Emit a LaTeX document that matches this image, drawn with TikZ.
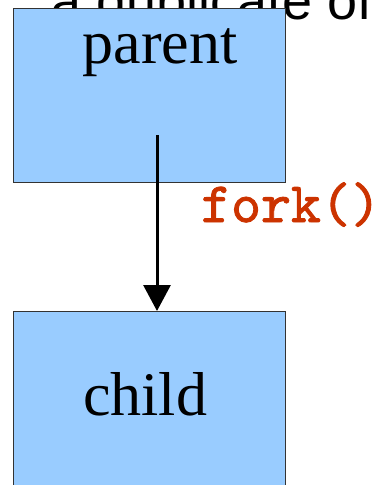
\documentclass[tikz,border=0pt]{standalone}
\usepackage{fontspec}
\setmainfont{Liberation Serif}
\newfontfamily\headfont{Liberation Sans}
\newfontfamily\codefont[FakeBold=1.6]{lmmono10-regular.otf}
\usetikzlibrary{arrows.meta}

\definecolor{procblue}{HTML}{99CCFF}
\definecolor{forkred}{HTML}{CC3300}

\tikzset{
  procbox/.style={draw=black!80, line width=1.2pt, fill=procblue, inner sep=0pt,
    minimum width=272pt, anchor=north west},
  proclabel/.style={anchor=base, inner sep=0pt, font=\fontsize{62}{62}\selectfont}
}

\begin{document}
\begin{tikzpicture}[x=1pt, y=1pt]
	\useasboundingbox (0,0) rectangle (380,-485);
	\clip (0,0) rectangle (380,-485);
	% heading line running behind the parent box
	\node [anchor=base east, inner sep=0pt, font=\headfont\fontsize{54}{54}\selectfont] (head) at (373,-19) {a duplicate of};
	\node [procbox, minimum height=174pt] (parentbox) at (13,-8) {};
	\node [proclabel] (parentlabel) at (160,-63) {parent};
	\node [procbox, minimum height=200pt] (childbox) at (13,-311) {};
	\node [proclabel] (childlabel) at (145,-415) {child};
	\coordinate (forkstart) at (157,-135);
	\draw [line width=3pt, -{Triangle[length=26pt, width=27pt]}] (forkstart) -- (forkstart |- childbox.north);
	\node [anchor=base west, inner sep=0pt, text=forkred, font=\codefont\fontsize{57}{57}\selectfont] (forklabel) at (201,-222) {fork()};
\end{tikzpicture}
\end{document}
